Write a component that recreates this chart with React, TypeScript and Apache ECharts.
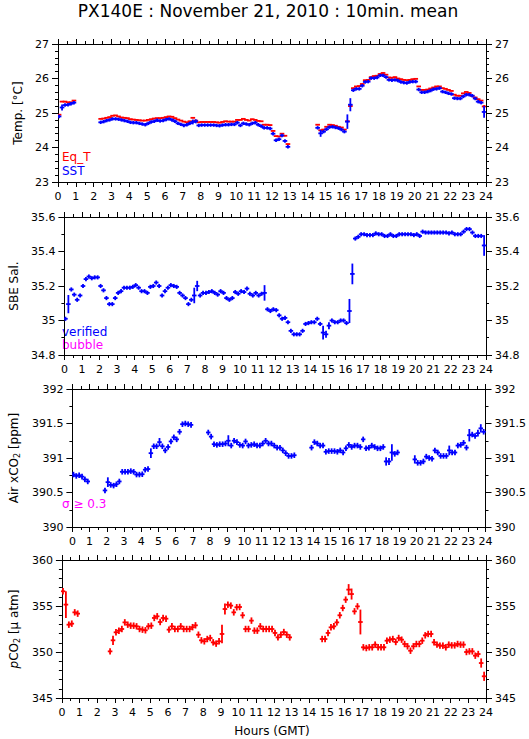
import React, { useEffect, useRef } from 'react';
import * as echarts from 'echarts';

const W = 529;
const H = 739;
const FONT = '"DejaVu Sans", "Liberation Sans", Arial, sans-serif';

const TITLE = 'PX140E : November 21, 2010 : 10min. mean';
const X_NAME = 'Hours (GMT)';

// one value every 10 minutes (index k -> hour k/6), null = no data
const eqT: (number | null)[] = [
  24.95, 25.33, 25.33, 25.31, 25.31, 25.36,
  null, null, null, null, null, null,
  null, null, 24.83, 24.84, 24.86, 24.88,
  24.92, 24.93, 24.90, 24.87, 24.86, 24.85,
  24.82, 24.81, 24.80, 24.79, 24.78, 24.78,
  24.80, 24.82, 24.84, 24.85, 24.85, 24.86,
  24.88, 24.90, 24.89, 24.85, 24.81, 24.78,
  24.75, 24.73, 24.76, 24.86, 24.78, 24.73,
  24.74, 24.74, 24.74, 24.74, 24.74, 24.73,
  24.72, 24.74, 24.76, 24.75, 24.75, 24.75,
  24.80, 24.80, 24.83, 24.80, 24.78, 24.82,
  24.80, 24.77, 24.76, 24.66, 24.66, 24.65,
  24.48, 24.33, 24.32, 24.40, 24.34, 24.10,
  null, null, null, null, null, null,
  null, null, null, 24.66, 24.50, 24.52,
  24.60, 24.66, 24.65, 24.63, 24.60, 24.58,
  24.52, 24.76, 25.20, 25.72, 25.77, 25.78,
  25.84, 25.95, 25.96, 26.04, 26.07, 26.08,
  26.13, 26.16, 26.11, 26.03, 26.02, 26.04,
  26.00, 25.98, 25.96, 25.95, 25.96, 25.98,
  25.99, 25.77, 25.67, 25.67, 25.68, 25.71,
  25.74, 25.77, 25.77, 25.72, 25.70, 25.67,
  25.64, 25.53, 25.50, 25.50, 25.57, 25.61,
  25.58, 25.50, 25.45, 25.40, 25.36, 25.19,
];

const sst: (number | null)[] = [
  24.90, 25.16, 25.23, 25.24, 25.27, 25.30,
  null, null, null, null, null, null,
  null, null, 24.73, 24.75, 24.78, 24.80,
  24.83, 24.83, 24.82, 24.80, 24.78, 24.76,
  24.73, 24.72, 24.72, 24.70, 24.68, 24.66,
  24.70, 24.74, 24.76, 24.79, 24.77, 24.78,
  24.81, 24.83, 24.80, 24.76, 24.70, 24.67,
  24.64, 24.66, 24.70, 24.74, 24.76, 24.64,
  24.65, 24.65, 24.65, 24.65, 24.65, 24.64,
  24.63, 24.65, 24.66, 24.66, 24.67, 24.67,
  24.72, 24.64, 24.70, 24.68, 24.66, 24.70,
  24.72, 24.66, 24.62, 24.57, 24.57, 24.55,
  24.40, 24.21, 24.24, 24.35, 24.19, 24.02,
  null, null, null, null, null, null,
  null, null, null, 24.57, 24.41, 24.46,
  24.53, 24.59, 24.60, 24.58, 24.56, 24.52,
  24.46, 24.75, 25.24, 25.66, 25.70, 25.70,
  25.79, 25.90, 25.91, 26.01, 26.01, 26.03,
  26.09, 26.09, 26.04, 25.96, 25.95, 25.96,
  25.94, 25.90, 25.88, 25.87, 25.90, 25.91,
  25.91, 25.68, 25.60, 25.60, 25.62, 25.65,
  25.69, 25.70, 25.72, 25.62, 25.60, 25.57,
  25.55, 25.43, 25.42, 25.42, 25.48, 25.53,
  25.53, 25.50, 25.42, 25.33, 25.30, 25.03,
];

const salinity: (number | null)[] = [
  35.01, 35.095, 35.18, 35.15, 35.12, 35.145,
  35.20, 35.24, 35.255, 35.245, 35.25, 35.25,
  35.20, 35.175, 35.13, 35.095, 35.095, 35.13,
  35.16, 35.17, 35.19, 35.19, 35.19, 35.195,
  35.205, 35.19, 35.17, 35.17, 35.16, 35.195,
  35.20, 35.22, 35.20, 35.145, 35.17, 35.19,
  35.205, 35.20, 35.195, 35.16, 35.145, 35.13,
  35.095, 35.12, 35.145, 35.20, 35.145, 35.16,
  35.16, 35.165, 35.17, 35.16, 35.15, 35.17,
  35.16, 35.13, 35.12, 35.13, 35.165, 35.155,
  35.17, 35.165, 35.185, 35.155, 35.145, 35.16,
  35.145, 35.155, 35.16, 35.065, 35.055, 35.065,
  35.06, 35.03, 35.01, 35.015, 34.99, 34.94,
  34.92, 34.92, 34.92, 34.94, 34.98, 34.985,
  34.99, 34.99, 35.01, 34.98, 34.93, 34.92,
  34.97, 35.00, 34.99, 34.99, 35.00, 35.00,
  34.985, 35.055, 35.27, 35.475, 35.485, 35.50,
  35.50, 35.495, 35.495, 35.495, 35.505, 35.50,
  35.50, 35.49, 35.49, 35.50, 35.49, 35.49,
  35.50, 35.50, 35.50, 35.50, 35.50, 35.495,
  35.50, 35.49, 35.515, 35.51, 35.51, 35.51,
  35.51, 35.51, 35.51, 35.51, 35.51, 35.505,
  35.51, 35.50, 35.50, 35.50, 35.515, 35.53,
  35.53, 35.51, 35.49, 35.49, 35.49, 35.435,
];

const airXco2: (number | null)[] = [
  390.76, 390.74, 390.75, 390.73, 390.69, 390.66,
  null, null, null, null, null, 390.53,
  390.65, 390.61, 390.60, 390.62, 390.66, 390.80,
  390.80, 390.80, 390.81, 390.80, 390.76, 390.76,
  390.765, 390.83, 390.84, 391.07, 391.17, 391.17,
  391.23, 391.17, 391.11, 391.16, 391.24, 391.30,
  391.27, 391.38, 391.49, 391.50, 391.49, 391.48,
  null, null, null, null, null, 391.37,
  391.31, 391.20, 391.19, 391.20, 391.20, 391.21,
  391.25, 391.18, 391.25, 391.23, 391.19, 391.18,
  391.24, 391.18, 391.19, 391.20, 391.18, 391.18,
  391.21, 391.25, 391.21, 391.21, 391.18, 391.15,
  391.15, 391.11, 391.07, 391.03, 391.03, 391.04,
  null, null, null, null, null, 391.15,
  391.23, 391.21, 391.18, 391.18, 391.09, 391.10,
  391.10, 391.10, 391.09, 391.11, 391.08, 391.14,
  391.19, 391.16, 391.18, 391.18, 391.16, 391.27,
  391.14, 391.15, 391.18, 391.16, 391.14, 391.14,
  391.16, 390.95, 390.95, 391.08, 391.06, 391.08,
  null, null, null, null, null, 390.98,
  390.93, 390.93, 390.95, 391.02, 391.00, 390.99,
  391.11, 391.08, 391.03, 391.03, 391.03, 391.11,
  391.08, 391.08, 391.18, 391.19, 391.22, 391.15,
  391.33, 391.34, 391.32, 391.36, 391.43, 391.38,
];

const pco2: (number | null)[] = [
  356.6, 355.15, 352.97, 353.08, 354.31, 354.17,
  null, null, null, null, null, null,
  null, null, null, null, 350.07, 351.27,
  352.14, 352.32, 352.50, 353.22, 352.97, 352.86,
  352.86, 352.79, 352.50, 352.43, 352.36, 352.79,
  352.86, 353.70, 353.88, 353.26, 353.70, 353.62,
  352.43, 352.79, 352.50, 352.50, 352.79, 352.50,
  352.50, 352.50, 352.70, 352.90, 351.88, 351.27,
  351.16, 351.41, 351.52, 351.05, 350.91, 351.16,
  351.96, 354.67, 355.14, 355.04, 354.31, 354.86,
  354.89, 353.99, 352.50, 352.50, 353.41, 352.32,
  352.32, 352.79, 352.50, 352.50, 352.50, 352.50,
  352.07, 351.59, 351.88, 352.17, 351.88, 351.59,
  null, null, null, null, null, null,
  null, null, null, null, 351.41, 351.41,
  352.07, 352.68, 352.79, 353.22, 353.99, 354.78,
  355.69, 356.78, 356.30, 354.42, 354.96, 353.26,
  350.51, 350.43, 350.51, 350.51, 350.80, 350.51,
  350.51, 350.51, 351.23, 351.34, 351.41, 351.09,
  351.52, 351.34, 350.87, 350.62, 350.14, 350.62,
  350.87, 350.87, 351.23, 351.81, 351.96, 351.96,
  351.05, 350.80, 350.69, 350.69, 350.51, 350.80,
  350.72, 350.72, 350.87, 350.80, 350.80, 350.00,
  350.07, 350.07, 349.60, 349.78, 348.80, 347.36,
];

// [index, half-length of error bar] for the points with visible long error bars
const sstBigErr: [number, number][] = [[1, 0.09], [45, 0.07], [46, 0.06], [88, 0.1], [97, 0.21], [98, 0.19], [143, 0.17]];
const eqTBigErr: [number, number][] = [[143, 0.04]];
const salBigErr: [number, number][] = [[1, 0.053], [44, 0.045], [45, 0.03], [68, 0.045], [88, 0.04], [89, 0.02], [90, 0.02], [97, 0.07], [98, 0.06], [143, 0.06]];
const xco2BigErr: [number, number][] = [[12, 0.07], [27, 0.07], [30, 0.06], [54, 0.08], [109, 0.06], [110, 0.05], [111, 0.12], [119, 0.06], [131, 0.07], [138, 0.09], [141, 0.05], [142, 0.06]];
const pco2BigErr: [number, number][] = [[1, 1.45], [17, 0.5], [54, 1.0], [55, 0.6], [97, 0.6], [98, 0.6], [101, 1.35], [142, 0.5], [143, 0.5]];

const RED = '#ff0000';
const BLUE = '#0000ff';
const MAGENTA = '#ff00ff';

const GRID_TOPS = [44, 217, 389, 560];
const GRID_H = 138;
const GRID_LEFT = 58;
const GRID_RIGHT = 43;

const HALF = 0.13;
const LW = 1.8;

function buildData(vals: (number | null)[], defErr: number, big: [number, number][]) {
  const m = new Map<number, number>(big);
  const out: number[][] = [];
  vals.forEach((v, k) => {
    if (v == null) return;
    out.push([k / 6 + 0.06, v, m.has(k) ? (m.get(k) as number) : defErr]);
  });
  return out;
}

const mkRender = (color: string, lw: number) => (_p: any, api: any) => {
  const t = api.value(0);
  const v = api.value(1);
  const e = api.value(2);
  const c = api.coord([t, v]);
  const l = api.coord([t - HALF, v]);
  const r = api.coord([t + HALF, v]);
  const top = api.coord([t, v + e]);
  const bot = api.coord([t, v - e]);
  return {
    type: 'group',
    children: [
      { type: 'line', shape: { x1: l[0], y1: c[1], x2: r[0], y2: c[1] }, style: { stroke: color, lineWidth: lw } },
      { type: 'line', shape: { x1: c[0], y1: top[1], x2: c[0], y2: bot[1] }, style: { stroke: color, lineWidth: lw } },
    ],
  };
};

const panels = [
  { min: 23, max: 27, interval: 1, minor: 5, name: 'Temp. [°C]', gap: 27 },
  { min: 34.8, max: 35.6, interval: 0.2, minor: 2, name: 'SBE Sal.', gap: 37 },
  { min: 390, max: 392, interval: 0.5, minor: 2, name: 'Air xCO{sub|2} [ppm]', gap: 43 },
  { min: 345, max: 360, interval: 5, minor: 5, name: '{it|p}CO{sub|2} [μ atm]', gap: 32 },
];

const black = { color: '#000', width: 1 };

export default function App() {
  const ref = useRef<HTMLDivElement>(null);
  useEffect(() => {
    if (!ref.current) return;
    const chart = echarts.init(ref.current, undefined, { renderer: 'svg', width: W, height: H });

    const grid = GRID_TOPS.map((t) => ({ left: GRID_LEFT, right: GRID_RIGHT, top: t, height: GRID_H }));
    const xAxis: any[] = [];
    const yAxis: any[] = [];
    panels.forEach((p, i) => {
      const xBase = {
        type: 'value', gridIndex: i, min: 0, max: 24, interval: 1,
        axisLine: { show: true, onZero: false, lineStyle: black },
        axisTick: { show: true, length: 5, inside: false, lineStyle: black },
        minorTick: { show: true, splitNumber: 2, length: 3, lineStyle: black },
        splitLine: { show: false },
      };
      xAxis.push({ ...xBase, position: 'bottom', axisLabel: { show: true, fontSize: 11, color: '#000', margin: 9, fontFamily: FONT } });
      xAxis.push({ ...xBase, position: 'top', axisLabel: { show: false } });
      const yBase = {
        type: 'value', gridIndex: i, min: p.min, max: p.max, interval: p.interval,
        axisLine: { show: true, onZero: false, lineStyle: black },
        axisTick: { show: true, length: 6, inside: false, lineStyle: black },
        minorTick: { show: true, splitNumber: p.minor, length: 3, lineStyle: black },
        splitLine: { show: false },
        axisLabel: { show: true, fontSize: 11, color: '#000', margin: 9, fontFamily: FONT },
      };
      yAxis.push({
        ...yBase, position: 'left', name: p.name, nameLocation: 'middle', nameGap: p.gap,
        nameTextStyle: {
          fontSize: 12, color: '#000', fontFamily: FONT,
          rich: {
            sub: { fontSize: 8, verticalAlign: 'bottom', color: '#000', fontFamily: FONT, padding: [6, 0, 0, 0] },
            it: { fontSize: 12, fontStyle: 'italic', color: '#000', fontFamily: FONT },
          },
        },
      });
      yAxis.push({ ...yBase, position: 'right' });
    });

    const series: any[] = [
      { type: 'custom', xAxisIndex: 0, yAxisIndex: 0, clip: true, renderItem: mkRender(RED, LW), data: buildData(eqT, 0.012, eqTBigErr) },
      { type: 'custom', xAxisIndex: 0, yAxisIndex: 0, clip: true, renderItem: mkRender(BLUE, LW), data: buildData(sst, 0.05, sstBigErr) },
      { type: 'custom', xAxisIndex: 2, yAxisIndex: 2, clip: true, renderItem: mkRender(BLUE, LW), data: buildData(salinity, 0.012, salBigErr) },
      { type: 'custom', xAxisIndex: 4, yAxisIndex: 4, clip: true, renderItem: mkRender(BLUE, LW), data: buildData(airXco2, 0.04, xco2BigErr) },
      { type: 'custom', xAxisIndex: 6, yAxisIndex: 6, clip: true, renderItem: mkRender(RED, LW), data: buildData(pco2, 0.35, pco2BigErr) },
    ];

    const txt = (text: string, x: number, y: number, fill: string, size: number, align = 'left', vAlign = 'top') => ({
      type: 'text', x, y, silent: true,
      style: { text, fill, font: `${size}px ${FONT}`, textAlign: align, textVerticalAlign: vAlign },
    });

    chart.setOption({
      animation: false,
      backgroundColor: '#fff',
      grid,
      xAxis,
      yAxis,
      series,
      graphic: [
        txt(TITLE, 268, 11, '#000', 17, 'center', 'middle'),
        txt(X_NAME, 272, 731, '#000', 12, 'center', 'middle'),
        txt('Eq_T', 62, 151, RED, 12),
        txt('SST', 62, 165, BLUE, 12),
        txt('verified', 62, 326, BLUE, 12),
        txt('bubble', 62, 339, MAGENTA, 12),
        txt('σ ≥ 0.3', 62, 498, MAGENTA, 12),
      ],
    });
    return () => chart.dispose();
  }, []);
  return <div ref={ref} style={{ position: 'absolute', left: 0, top: 0, width: W, height: H, background: '#fff' }} />;
}
